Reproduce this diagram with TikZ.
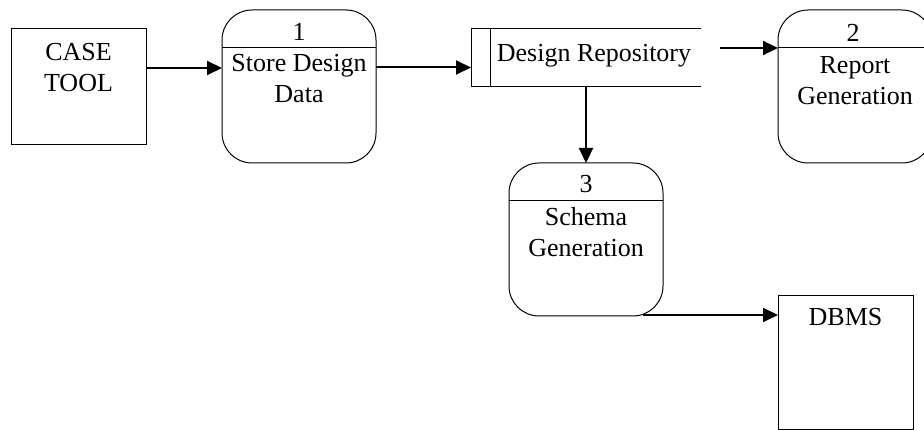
\documentclass[tikz,border=0pt]{standalone}
\usepackage{fontspec}
\setmainfont{Liberation Serif}
\usetikzlibrary{arrows.meta}

\begin{document}
\begin{tikzpicture}[x=1pt, y=-1pt,
		ext/.style={draw, line width=1pt, outer sep=0pt, inner sep=0pt, minimum width=135pt, minimum height=116pt},
		proc/.style={draw, line width=1pt, outer sep=0pt, inner sep=0pt, rounded corners=30pt, minimum width=154pt, minimum height=153pt},
		txt/.style={anchor=base, align=center, inner sep=0pt, font=\fontsize{26}{31}\selectfont},
		flow/.style={line width=2pt, -{Triangle[length=15pt, width=14pt]}}]
			\useasboundingbox (0, 0) rectangle (924, 430);
			\node[ext] (case) at (78.5, 87) {};
			\node[proc] (p1) at (299, 86.5) {};
			\node[outer sep=0pt, inner sep=0pt, minimum width=230pt, minimum height=58pt] (repo) at (586, 58) {};
			\node[proc] (p2) at (855, 86.5) {};
			\node[proc] (p3) at (586, 239.5) {};
			\node[ext, minimum height=133pt] (dbms) at (845.5, 362.5) {};
			\draw[line width=1pt] ([yshift=-38pt]p1.north west) -- ([yshift=-38pt]p1.north east);
			\draw[line width=1pt] ([yshift=-38pt]p2.north west) -- ([yshift=-38pt]p2.north east);
			\draw[line width=1pt] ([yshift=-38pt]p3.north west) -- ([yshift=-38pt]p3.north east);
			\draw[line width=1pt] (repo.north east) -- (repo.north west) -- (repo.south west) -- (repo.south east);
			\draw[line width=1pt] ([xshift=19pt]repo.north west) -- ([xshift=19pt]repo.south west);
			\node[txt] (casetxt) at (78.5, 92) {CASE\\TOOL};
			\node[txt] (p1num) at (299, 41) {1};
			\node[txt] (p1txt) at (299, 103) {Store Design\\Data};
			\node[txt] (repotxt) at (594, 62) {Design Repository};
			\node[txt] (p2num) at (853, 42) {2};
			\node[txt] (p2txt) at (855, 105) {Report\\Generation};
			\node[txt] (p3num) at (586, 193) {3};
			\node[txt] (p3txt) at (586, 257) {Schema\\Generation};
			\node[txt] (dbmstxt) at (845.5, 326) {DBMS};
			\coordinate (caseout) at ([yshift=19pt]case.east);
			\coordinate (p1out) at ([yshift=19pt]p1.east);
			\coordinate (r2) at (720, 48);
			\coordinate (p3out) at ([xshift=57pt, yshift=1pt]p3.south);
			\draw[flow] (caseout) -- (caseout -| p1.west);
			\draw[flow] (p1out) -- (p1out -| repo.west);
			\draw[flow] (r2) -- (r2 -| p2.west);
			\draw[flow] (repo.south) -- (p3.north);
			\draw[flow] (p3out) -- (p3out -| dbms.west);
		\end{tikzpicture}
\end{document}
